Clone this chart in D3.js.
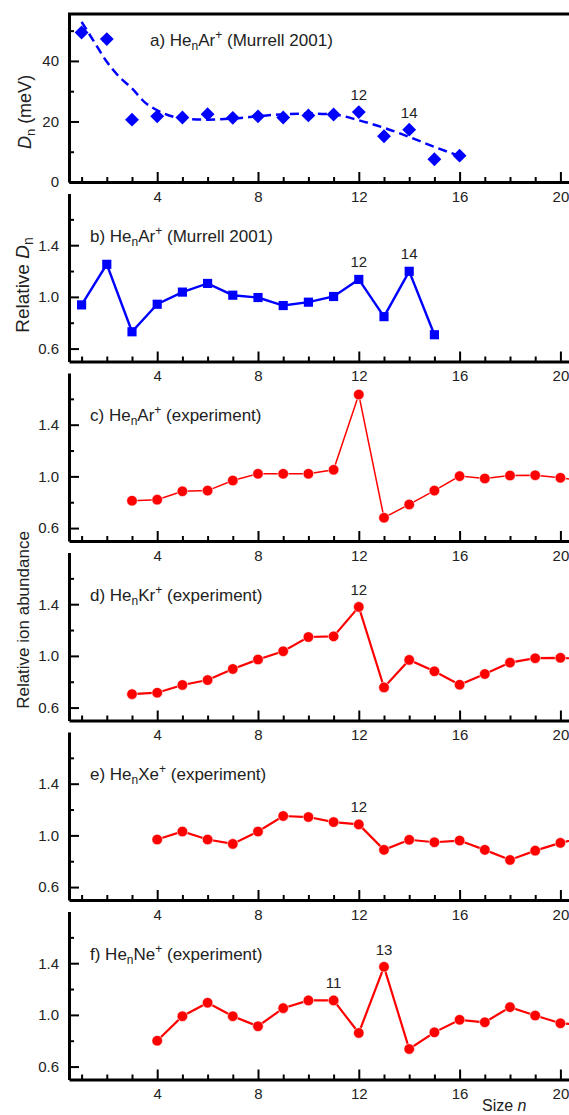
<!DOCTYPE html>
<html>
<head>
<meta charset="utf-8">
<script src="https://cdn.jsdelivr.net/npm/d3@7"></script>
<style>
  body { margin: 0; background: #fff; }
  text { font-family: "Liberation Sans", Arial, sans-serif; fill: #222; }
</style>
</head>
<body>
<svg width="569" height="1115"></svg>
<script>
// ---- data ----
const sizeA = [1, 2, 3, 4, 5, 6, 7, 8, 9, 10, 11, 12, 13, 14, 15, 16];
const murrellD = [49.4, 47.2, 20.6, 21.7, 21.3, 22.4, 21.2, 21.7, 21.3, 22.0, 22.3, 23.1, 15.1, 17.3, 7.5, 8.7];
const fitN = [1, 1.5, 2, 2.5, 3, 3.5, 4, 5, 6, 7, 8, 9, 10, 11, 12, 13, 14, 15, 16];
const fitD = [52.9, 46.3, 39.7, 34.7, 30.9, 26.4, 23.7, 21.0, 20.6, 21.0, 21.7, 22.4, 22.6, 22.3, 20.4, 17.9, 14.9, 11.6, 8.6];

const sizeB = [1, 2, 3, 4, 5, 6, 7, 8, 9, 10, 11, 12, 13, 14, 15];
const relD = [0.938, 1.252, 0.730, 0.943, 1.037, 1.104, 1.013, 0.995, 0.933, 0.959, 1.003, 1.135, 0.847, 1.198, 0.707];

const sizeC = [3, 4, 5, 6, 7, 8, 9, 10, 11, 12, 13, 14, 15, 16, 17, 18, 19, 20, 21];
const arAbund = [0.812, 0.820, 0.885, 0.890, 0.968, 1.020, 1.020, 1.020, 1.051, 1.633, 0.680, 0.783, 0.890, 1.002, 0.984, 1.007, 1.009, 0.989, 0.96];

const sizeD = [3, 4, 5, 6, 7, 8, 9, 10, 11, 12, 13, 14, 15, 16, 17, 18, 19, 20, 21];
const krAbund = [0.704, 0.715, 0.775, 0.813, 0.899, 0.972, 1.036, 1.146, 1.151, 1.379, 0.756, 0.969, 0.881, 0.777, 0.860, 0.948, 0.982, 0.985, 0.975];

const sizeE = [4, 5, 6, 7, 8, 9, 10, 11, 12, 13, 14, 15, 16, 17, 18, 19, 20, 21];
const xeAbund = [0.968, 1.030, 0.968, 0.934, 1.030, 1.150, 1.142, 1.103, 1.085, 0.888, 0.966, 0.947, 0.960, 0.888, 0.810, 0.882, 0.942, 0.99];

const sizeF = [4, 5, 6, 7, 8, 9, 10, 11, 12, 13, 14, 15, 16, 17, 18, 19, 20, 21];
const neAbund = [0.800, 0.990, 1.094, 0.990, 0.912, 1.052, 1.112, 1.112, 0.860, 1.372, 0.736, 0.865, 0.962, 0.943, 1.060, 0.995, 0.935, 0.92];

const xMajor = [4, 8, 12, 16, 20];
const xMinor = [1, 2, 3, 5, 6, 7, 9, 10, 11, 13, 14, 15, 17, 18, 19, 21];
const relMajor = [0.6, 1.0, 1.4];
const relMinor = [0.8, 1.2, 1.6];

let svg = d3.select("svg");

const x = d3.scaleLinear().domain([0.5, 20.5]).range([69, 573]);

const panels = [
  { key: "a", n: sizeA, v: murrellD, elem: "Ar", src: "Murrell 2001", marker: "diamond", color: "#0000ff", bottom: 182, domain: [0, 55.5], major: [0, 20, 40], minor: [10, 30, 50], fmt: d3.format("d"), peaks: [12, 14], lw: 2 },
  { key: "b", n: sizeB, v: relD, elem: "Ar", src: "Murrell 2001", marker: "square", color: "#0000ff", bottom: 361.5, peaks: [12, 14], lw: 2.4 },
  { key: "c", n: sizeC, v: arAbund, elem: "Ar", src: "experiment", marker: "circle", color: "#ff0000", bottom: 541, peaks: [], lw: 1.5 },
  { key: "d", n: sizeD, v: krAbund, elem: "Kr", src: "experiment", marker: "circle", color: "#ff0000", bottom: 720.5, peaks: [12], lw: 2.2 },
  { key: "e", n: sizeE, v: xeAbund, elem: "Xe", src: "experiment", marker: "circle", color: "#ff0000", bottom: 900, peaks: [12], lw: 2.2 },
  { key: "f", n: sizeF, v: neAbund, elem: "Ne", src: "experiment", marker: "circle", color: "#ff0000", bottom: 1079.5, peaks: [11, 13], lw: 2.2 }
];

const panelH = 168;

panels.forEach(function (p) {
  let y = d3.scaleLinear()
    .domain(p.domain || [0.5, 1.8])
    .range([p.bottom, p.bottom - panelH]);

  let g = svg.append("g").attr("class", "panel-" + p.key);

  // x axis: major ticks with labels, minor without (ticks point inward)
  g.append("g").attr("transform", "translate(0," + p.bottom + ")")
    .call(d3.axisBottom(x).tickValues(xMajor).tickSizeInner(-10).tickSizeOuter(0).tickPadding(9).tickFormat(d3.format("d")));
  g.append("g").attr("transform", "translate(0," + p.bottom + ")")
    .call(d3.axisBottom(x).tickValues(xMinor).tickSizeInner(-5).tickSizeOuter(0).tickFormat(""))
    .select(".domain").remove();

  // y axis
  g.append("g").attr("transform", "translate(69,0)")
    .call(d3.axisLeft(y).tickValues(p.major || relMajor).tickSizeInner(-10).tickSizeOuter(0).tickPadding(10)
      .tickFormat(p.fmt || d3.format(".1f")));
  g.append("g").attr("transform", "translate(69,0)")
    .call(d3.axisLeft(y).tickValues(p.minor || relMinor).tickSizeInner(-5).tickSizeOuter(0).tickFormat(""))
    .select(".domain").remove();

  g.selectAll(".domain").attr("stroke", "#000").attr("stroke-width", 3);
  g.selectAll(".tick line").attr("stroke", "#000").attr("stroke-width", 2);
  g.selectAll(".tick text").style("font-size", "15px").attr("fill", "#222")
    .style("font-family", "'Liberation Sans', Arial, sans-serif");

  // panel a has a closed top
  if (p.key === "a") {
    g.append("line")
      .attr("x1", 68).attr("x2", 573)
      .attr("y1", p.bottom - panelH).attr("y2", p.bottom - panelH)
      .attr("stroke", "#000").attr("stroke-width", 3);
    // fitted trend, dashed
    g.append("path")
      .datum(fitN.map(function (d, i) { return [d, fitD[i]]; }))
      .attr("fill", "none")
      .attr("stroke", p.color)
      .attr("stroke-width", 2.5)
      .attr("stroke-dasharray", "9,5")
      .attr("d", d3.line().curve(d3.curveMonotoneX)
        .x(function (d) { return x(d[0]); })
        .y(function (d) { return y(d[1]); }));
  } else {
    g.append("path")
      .datum(p.n.map(function (d, i) { return [d, p.v[i]]; }))
      .attr("fill", "none")
      .attr("stroke", p.color)
      .attr("stroke-width", p.lw)
      .attr("d", d3.line()
        .x(function (d) { return x(d[0]); })
        .y(function (d) { return y(d[1]); }));
  }

  // markers
  let sym;
  if (p.marker === "circle") sym = d3.symbol().type(d3.symbolCircle).size(88);
  else sym = d3.symbol().type(d3.symbolSquare).size(p.marker === "diamond" ? 96 : 84);

  g.selectAll(".pt")
    .data(p.n.map(function (d, i) { return [d, p.v[i]]; }))
    .enter().append("path")
    .attr("class", "pt")
    .attr("d", sym)
    .attr("fill", p.color)
    .attr("stroke", p.marker === "circle" ? "#fff" : "none")
    .attr("stroke-width", 0.6)
    .attr("transform", function (d) {
      return "translate(" + x(d[0]) + "," + y(d[1]) + ")" + (p.marker === "diamond" ? " rotate(45)" : "");
    });

  // peak labels
  p.peaks.forEach(function (k) {
    let i = p.n.indexOf(k);
    g.append("text")
      .attr("x", x(k))
      .attr("y", y(p.v[i]) - 12)
      .attr("text-anchor", "middle")
      .style("font-size", "15px")
      .text(k);
  });

  // panel title
  let t = g.append("text")
    .attr("x", p.key === "a" ? 150 : 90)
    .attr("y", p.key === "a" ? 46 : p.bottom - 120)
    .style("font-size", "17px");
  t.append("tspan").text(p.key + ") He");
  t.append("tspan").attr("dy", 4).style("font-size", "12px").text("n");
  t.append("tspan").attr("dy", -4).text(p.elem);
  t.append("tspan").attr("dy", -7).style("font-size", "12px").text("+");
  t.append("tspan").attr("dy", 7).text(" (" + p.src + ")");
});

// y axis titles
let ya = svg.append("text")
  .attr("transform", "translate(31,112) rotate(-90)")
  .attr("text-anchor", "middle")
  .style("font-size", "18px");
ya.append("tspan").style("font-style", "italic").text("D");
ya.append("tspan").attr("dy", 4).style("font-size", "13px").text("n");
ya.append("tspan").attr("dy", -4).text(" (meV)");

let yb = svg.append("text")
  .attr("transform", "translate(29,285) rotate(-90)")
  .attr("text-anchor", "middle")
  .style("font-size", "19px");
yb.append("tspan").text("Relative ");
yb.append("tspan").style("font-style", "italic").text("D");
yb.append("tspan").attr("dy", 4).style("font-size", "14px").text("n");

svg.append("text")
  .attr("transform", "translate(29,620) rotate(-90)")
  .attr("text-anchor", "middle")
  .style("font-size", "17px")
  .text("Relative ion abundance");

// x axis title
let xt = svg.append("text")
  .attr("x", 482).attr("y", 1111)
  .style("font-size", "16px");
xt.append("tspan").text("Size ");
xt.append("tspan").style("font-style", "italic").text("n");
</script>
</body>
</html>
